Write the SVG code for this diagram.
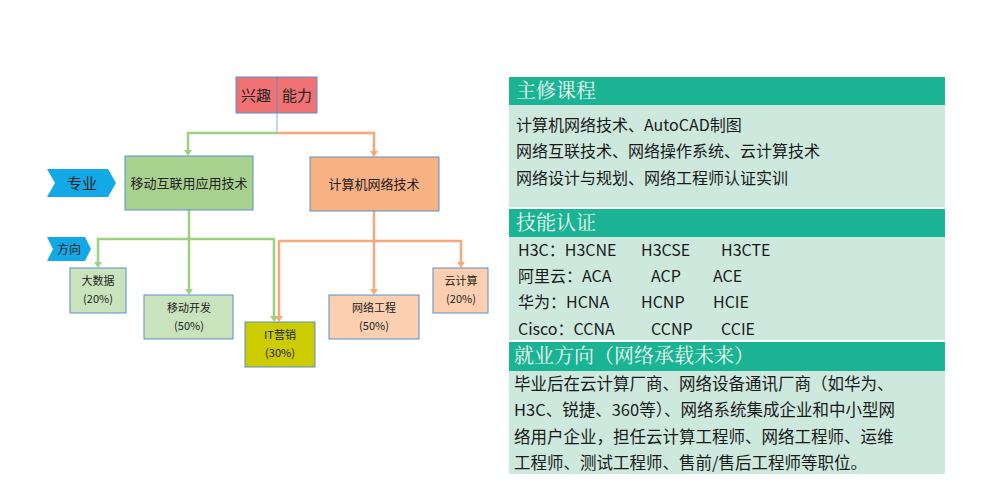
<svg xmlns="http://www.w3.org/2000/svg" width="1000" height="486" viewBox="0 0 1000 486">
<defs>
<style>
text{font-family:"Noto Sans CJK SC","Noto Sans",sans-serif;fill:#222}
.g{fill:#a9d18e;stroke:#5b8fc7;stroke-width:1}
.gl{fill:#c9e4bd;stroke:#5b8fc7;stroke-width:1}
.o{fill:#f8b183;stroke:#5b8fc7;stroke-width:1}
.ol{fill:#fbcfb0;stroke:#5b8fc7;stroke-width:1}
.cg{stroke:#9dd080;stroke-width:2.5;fill:none}
.co{stroke:#f4a97a;stroke-width:2.5;fill:none}
.hd{fill:#1ab394}
.bd{fill:#cde8dd}
.ht{fill:#eef8f0;font-family:"Noto Serif CJK SC","Noto Sans CJK SC",serif;font-size:20px}
.bt{font-size:16px;fill:#1a1a1a}
.bt3{font-size:16.5px;fill:#1a1a1a}
.s{font-size:11px;text-anchor:middle}
</style>
</defs>
<rect width="1000" height="486" fill="#fff"/>
<g id="connectors">
<line x1="277" y1="113" x2="277" y2="133" stroke="#7fb2e5" stroke-width="1"/>
<path class="cg" d="M277,133 H188 V151"/><path d="M184,150 L192,150 L188,156z" fill="#9dd080"/>
<path class="co" d="M277,133 H374 V152"/><path d="M370,151 L378,151 L374,157z" fill="#f4a97a"/>
<path class="cg" d="M189,210 V239 H98 V262"/><path d="M94,262 L102,262 L98,268z" fill="#9dd080"/>
<path class="cg" d="M189,239 V289"/><path d="M185,289 L193,289 L189,295z" fill="#9dd080"/>
<path class="cg" d="M189,239 H274 V316"/><path d="M270,316 L278,316 L274,322z" fill="#9dd080"/>
<path class="co" d="M374,211 V241 H279 V316"/><path d="M275,316 L283,316 L279,322z" fill="#f4a97a"/>
<path class="co" d="M374,241 V289"/><path d="M370,289 L378,289 L374,295z" fill="#f4a97a"/>
<path class="co" d="M374,241 H461 V262"/><path d="M457,262 L465,262 L461,268z" fill="#f4a97a"/>
</g>
<g id="top"><rect x="236" y="77" width="81" height="36" fill="#f07275" stroke="#5b8fc7"/><line x1="277" y1="77" x2="277" y2="113" stroke="#5b8fc7"/>
<text x="256" y="101" font-size="15" text-anchor="middle">兴趣</text><text x="297" y="101" font-size="15" text-anchor="middle">能力</text></g>
<g id="zy"><path d="M47,169 H108 L116,183 L108,197 H47 L55,183z" fill="#12a9e6"/><text x="82" y="189" font-size="15" text-anchor="middle">专业</text></g>
<g id="fx"><path d="M47,237 H85 L91,249 L85,261 H47 L53,249z" fill="#12a9e6"/><text x="69" y="254" font-size="12" text-anchor="middle">方向</text></g>
<g id="mobile"><rect class="g" x="125" y="156" width="128" height="54"/><text x="189" y="188" font-size="13" text-anchor="middle">移动互联用应用技术</text></g>
<g id="net"><rect class="o" x="310" y="157" width="129" height="54"/><text x="374" y="189" font-size="13" text-anchor="middle">计算机网络技术</text></g>
<g id="bigdata"><rect class="gl" x="70" y="268" width="56" height="45"/><text class="s" x="98" y="285">大数据</text><text class="s" x="98" y="303">(20%)</text></g>
<g id="dev"><rect class="gl" x="144" y="295" width="89" height="44"/><text class="s" x="189" y="312">移动开发</text><text class="s" x="189" y="330">(50%)</text></g>
<g id="it"><rect x="245" y="322" width="70" height="45" fill="#cccc00" stroke="#5b8fc7"/><text class="s" x="280" y="339">IT营销</text><text class="s" x="280" y="357">(30%)</text></g>
<g id="ne"><rect class="ol" x="329" y="295" width="90" height="44"/><text class="s" x="374" y="312">网络工程</text><text class="s" x="374" y="330">(50%)</text></g>
<g id="cloud"><rect class="ol" x="433" y="268" width="55" height="45"/><text class="s" x="461" y="285">云计算</text><text class="s" x="461" y="303">(20%)</text></g>
<g id="panel">
<rect class="hd" x="509" y="77" width="436" height="28"/><rect class="bd" x="509" y="105" width="436" height="102"/>
<rect class="hd" x="509" y="209" width="436" height="28"/><rect class="bd" x="509" y="237" width="436" height="103"/>
<rect class="hd" x="509" y="342" width="436" height="29"/><rect class="bd" x="509" y="371" width="436" height="103"/>
<text class="ht" x="516" y="98">主修课程</text>
<text class="bt" x="516" y="131">计算机网络技术、AutoCAD制图</text>
<text class="bt" x="516" y="157">网络互联技术、网络操作系统、云计算技术</text>
<text class="bt" x="516" y="184">网络设计与规划、网络工程师认证实训</text>
<text class="ht" x="516" y="230">技能认证</text>
<text class="bt" x="518" y="256">H3C：H3CNE</text><text class="bt" x="641" y="256">H3CSE</text><text class="bt" x="721" y="256">H3CTE</text>
<text class="bt" x="518" y="282">阿里云：ACA</text><text class="bt" x="651" y="282">ACP</text><text class="bt" x="713" y="282">ACE</text>
<text class="bt" x="518" y="308">华为：HCNA</text><text class="bt" x="641" y="308">HCNP</text><text class="bt" x="713" y="308">HCIE</text>
<text class="bt" x="518" y="335">Cisco：CCNA</text><text class="bt" x="651" y="335">CCNP</text><text class="bt" x="721" y="335">CCIE</text>
<text class="ht" x="514" y="363">就业方向（网络承载未来）</text>
<text class="bt3" x="514" y="390">毕业后在云计算厂商、网络设备通讯厂商（如华为、</text>
<text class="bt3" x="514" y="416">H3C、锐捷、360等）、网络系统集成企业和中小型网</text>
<text class="bt3" x="514" y="443">络用户企业，担任云计算工程师、网络工程师、运维</text>
<text class="bt3" x="514" y="469">工程师、测试工程师、售前/售后工程师等职位。</text>
</g>
</svg>
